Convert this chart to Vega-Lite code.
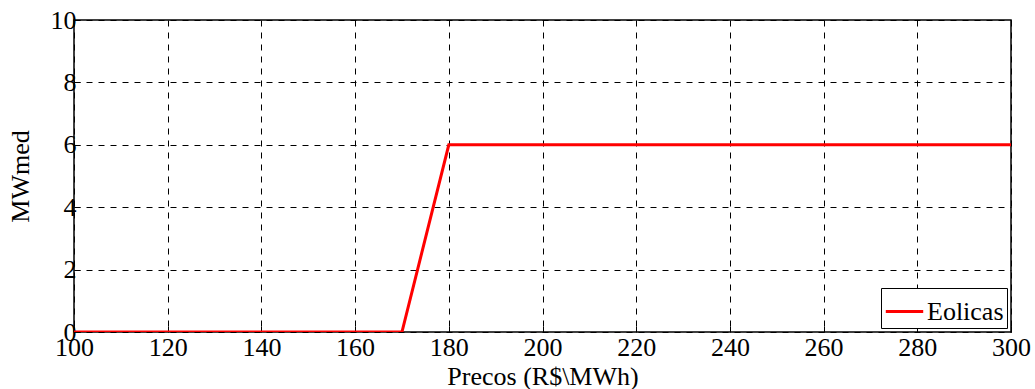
{
  "$schema": "https://vega.github.io/schema/vega-lite/v6.json",
  "width": 937,
  "height": 312,
  "autosize": {"type": "none"},
  "padding": {"left": 74, "top": 20, "right": 24, "bottom": 57},
  "background": "white",
  "config": {
    "view": {"stroke": "black", "strokeWidth": 1.5},
    "font": "Times New Roman, Liberation Serif, serif"
  },
  "data": {
    "values": [
      {"price": 100, "mw": 0, "series": "Eolicas"},
      {"price": 110, "mw": 0, "series": "Eolicas"},
      {"price": 120, "mw": 0, "series": "Eolicas"},
      {"price": 130, "mw": 0, "series": "Eolicas"},
      {"price": 140, "mw": 0, "series": "Eolicas"},
      {"price": 150, "mw": 0, "series": "Eolicas"},
      {"price": 160, "mw": 0, "series": "Eolicas"},
      {"price": 170, "mw": 0, "series": "Eolicas"},
      {"price": 180, "mw": 6, "series": "Eolicas"},
      {"price": 190, "mw": 6, "series": "Eolicas"},
      {"price": 200, "mw": 6, "series": "Eolicas"},
      {"price": 210, "mw": 6, "series": "Eolicas"},
      {"price": 220, "mw": 6, "series": "Eolicas"},
      {"price": 230, "mw": 6, "series": "Eolicas"},
      {"price": 240, "mw": 6, "series": "Eolicas"},
      {"price": 250, "mw": 6, "series": "Eolicas"},
      {"price": 260, "mw": 6, "series": "Eolicas"},
      {"price": 270, "mw": 6, "series": "Eolicas"},
      {"price": 280, "mw": 6, "series": "Eolicas"},
      {"price": 290, "mw": 6, "series": "Eolicas"},
      {"price": 300, "mw": 6, "series": "Eolicas"}
    ]
  },
  "mark": {"type": "line", "strokeWidth": 3, "clip": true},
  "encoding": {
    "x": {
      "field": "price",
      "type": "quantitative",
      "scale": {"domain": [100, 300], "nice": false, "zero": false},
      "axis": {
        "title": "Precos (R$\\MWh)",
        "values": [100, 120, 140, 160, 180, 200, 220, 240, 260, 280, 300],
        "domain": false,
        "ticks": true,
        "tickSize": -6,
        "tickColor": "black",
        "labelFlush": false,
        "labelOverlap": false,
        "labelBound": false,
        "labelPadding": 8,
        "labelFontSize": 26,
        "labelColor": "black",
        "labelFont": "Times New Roman, Liberation Serif, serif",
        "titleFont": "Times New Roman, Liberation Serif, serif",
        "titleFontSize": 26,
        "titleFontWeight": "normal",
        "titleColor": "black",
        "titlePadding": 3,
        "grid": true,
        "gridColor": "black",
        "gridDash": [6, 6],
        "gridWidth": 1,
        "gridOpacity": 1
      }
    },
    "y": {
      "field": "mw",
      "type": "quantitative",
      "scale": {"domain": [0, 10], "nice": false},
      "axis": {
        "title": "MWmed",
        "values": [0, 2, 4, 6, 8, 10],
        "domain": false,
        "ticks": true,
        "tickSize": -6,
        "tickColor": "black",
        "labelFlush": false,
        "labelOverlap": false,
        "labelBound": false,
        "labelPadding": 4,
        "labelFontSize": 26,
        "labelColor": "black",
        "labelFont": "Times New Roman, Liberation Serif, serif",
        "titleFont": "Times New Roman, Liberation Serif, serif",
        "titleFontSize": 26,
        "titleFontWeight": "normal",
        "titleColor": "black",
        "titlePadding": 17,
        "grid": true,
        "gridColor": "black",
        "gridDash": [6, 6],
        "gridWidth": 1,
        "gridOpacity": 1
      }
    },
    "color": {
      "field": "series",
      "type": "nominal",
      "scale": {"domain": ["Eolicas"], "range": ["#ff0000"]},
      "legend": {
        "title": null,
        "orient": "bottom-right",
        "offset": 4,
        "padding": 3,
        "fillColor": "white",
        "strokeColor": "black",
        "symbolType": "stroke",
        "symbolSize": 1400,
        "symbolStrokeWidth": 3,
        "labelFontSize": 26,
        "labelFont": "Times New Roman, Liberation Serif, serif",
        "labelColor": "black",
        "labelOffset": 2
      }
    }
  }
}
